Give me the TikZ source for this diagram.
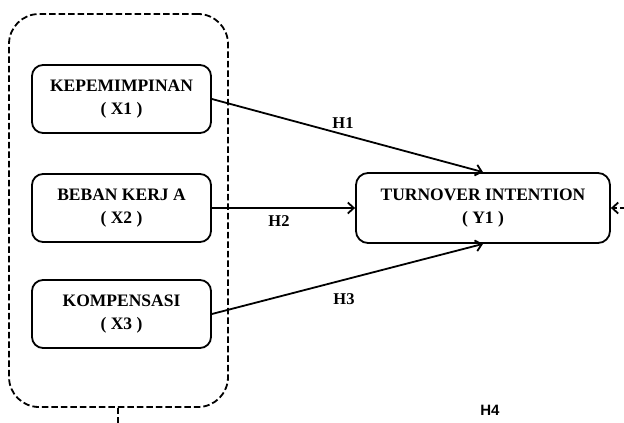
\documentclass[tikz,border=0pt]{standalone}
\usepackage{fontspec}
\setmainfont{Liberation Serif}
\newfontfamily\hsans{Liberation Sans}
\usetikzlibrary{arrows.meta}
\begin{document}
\begin{tikzpicture}[x=1pt,y=-1pt,
  varbox/.style={draw,line width=1.8pt,rounded corners=11pt,minimum width=179pt,minimum height=68pt,
    align=center,font=\fontsize{17.5}{23}\selectfont\bfseries,inner sep=0pt},
  grpbox/.style={draw,line width=1.8pt,dash pattern=on 6.5pt off 3pt,rounded corners=30pt,
    minimum width=219pt,minimum height=393pt,inner sep=0pt},
  hyp/.style={font=\fontsize{16.5}{18}\selectfont\bfseries,inner sep=0pt},
  arr/.style={line width=1.8pt,-{Straight Barb[length=6pt,width=11pt,line width=1.8pt]}}
]
\useasboundingbox (0,0) rectangle (624,423);
\node[grpbox] (grp) at (118.5,210.5) {};
\node[varbox] (x1) at (121.5,99) {KEPEMIMPINAN\\( X1 )};
\node[varbox] (x2) at (121.5,208) {BEBAN KERJ A\\( X2 )};
\node[varbox] (x3) at (121.5,314) {KOMPENSASI\\( X3 )};
\node[varbox,minimum width=254pt,minimum height=70pt,rounded corners=12pt] (y1) at (483,208) {TURNOVER INTENTION\\( Y1 )};
\coordinate (rin) at (626,208);
\coordinate (stub) at (118,425);
\draw[arr] (x1.east) -- (y1.north);
\draw[arr] (x2.east) -- (y1.west);
\draw[arr] (x3.east) -- (y1.south);
\draw[arr,dash pattern=on 6.5pt off 3pt] (rin) -- (y1.east);
\draw[line width=1.8pt,dash pattern=on 6.5pt off 3pt] (grp.south -| stub) -- (stub);
\node[hyp] (h1) at (343,123) {H1};
\node[hyp] (h2) at (279,221) {H2};
\node[hyp] (h3) at (344,299) {H3};
\node[hyp,font=\hsans\fontsize{15}{17}\selectfont\bfseries] (h4) at (490,410) {H4};
\end{tikzpicture}
\end{document}
